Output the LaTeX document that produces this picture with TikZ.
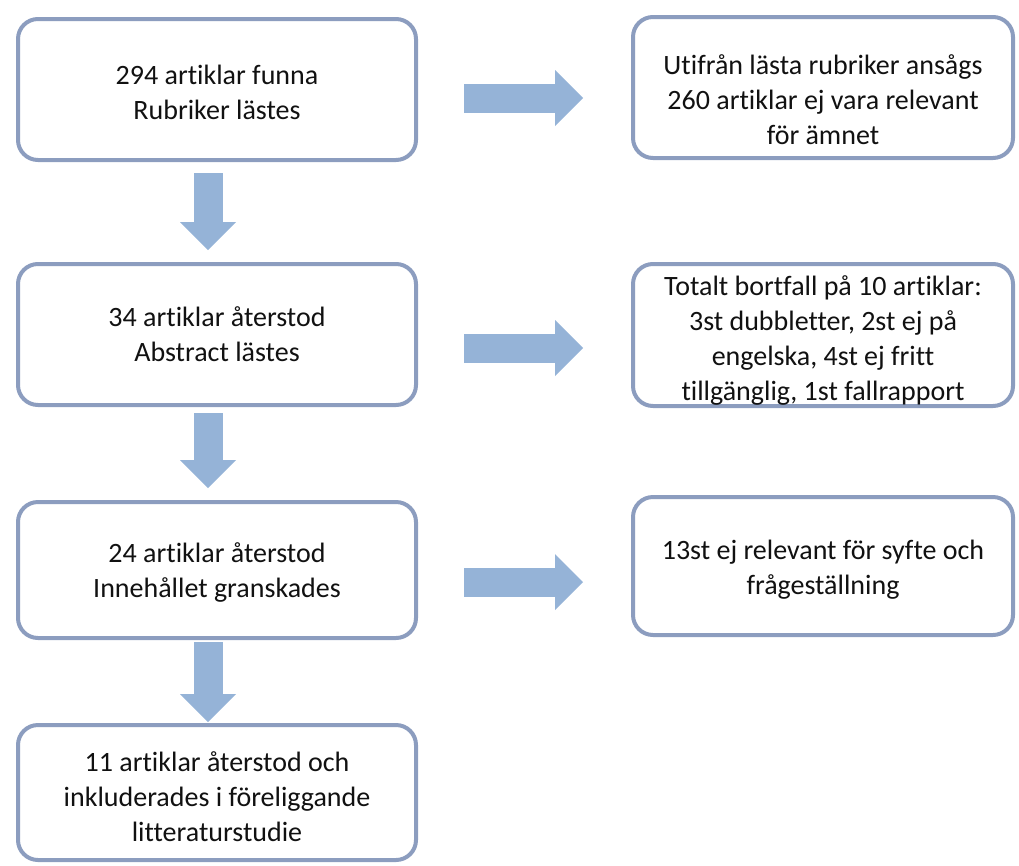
\documentclass[tikz,border=0pt]{standalone}
\usepackage{fontspec}
\setmainfont{Carlito}[Ligatures=NoCommon]
\usetikzlibrary{arrows.meta,calc}
\definecolor{boxline}{HTML}{8C9DBF}
\definecolor{arrowfill}{HTML}{95B3D7}
\definecolor{txt}{HTML}{111111}
\newcommand{\topgap}[1]{\rule{0pt}{#1}}
\begin{document}
\begin{tikzpicture}[x=1pt,y=-1pt,
  box/.style={draw=boxline, line width=4pt, rounded corners=20pt, fill=white,
    align=center, inner sep=0pt, text=txt,
    font=\fontsize{28}{35}\selectfont},
  flow/.style={draw=arrowfill, line width=29pt,
    -{Triangle[width=56pt,length=28pt,line width=0pt]}}]
\useasboundingbox (0,0) rectangle (1019,865);
% left column
\node[box, minimum width=398pt, minimum height=141pt] (L1) at (217,89.5)
  {\topgap{25pt}294 artiklar funna\\Rubriker lästes};
\node[box, minimum width=398pt, minimum height=141pt] (L2) at (217,334.5)
  {34 artiklar återstod\\Abstract lästes};
\node[box, minimum width=398pt, minimum height=136pt] (L3) at (217,570)
  {\topgap{25pt}24 artiklar återstod\\Innehållet granskades};
\node[box, minimum width=398pt, minimum height=135pt] (L4) at (217,792.5)
  {\topgap{29pt}11 artiklar återstod och\\inkluderades i föreliggande\\litteraturstudie};
% right column
\node[box, minimum width=380pt, minimum height=141pt] (R1) at (823,87.5)
  {\topgap{45pt}Utifrån lästa rubriker ansågs\\260 artiklar ej vara relevant\\för ämnet};
\node[box, minimum width=380pt, minimum height=142pt] (R2) at (823,335)
  {\topgap{30pt}Totalt bortfall på 10 artiklar:\\3st dubbletter, 2st ej på\\engelska, 4st ej fritt\\tillgänglig, 1st fallrapport};
\node[box, minimum width=380pt, minimum height=138pt] (R3) at (823,566)
  {\topgap{27pt}13st ej relevant för syfte och\\frågeställning};
% vertical block arrows
\draw[flow, shorten <=11pt, shorten >=12pt] ([xshift=-9pt]L1.south) -- ([xshift=-9pt]L2.north);
\draw[flow, shorten <=6pt, shorten >=12pt] ([xshift=-9pt]L2.south) -- ([xshift=-9pt]L3.north);
\draw[flow, shorten <=2pt, shorten >=1pt] ([xshift=-9pt]L3.south) -- ([xshift=-9pt]L4.north);
% horizontal block arrows
\draw[flow, shorten <=46pt, shorten >=48pt] ([yshift=-8.5pt]L1.east) coordinate (h1) -- (h1 -| R1.west);
\draw[flow, shorten <=46pt, shorten >=48pt] ([yshift=-13.5pt]L2.east) coordinate (h2) -- (h2 -| R2.west);
\draw[flow, shorten <=46pt, shorten >=48pt] ([yshift=-12pt]L3.east) coordinate (h3) -- (h3 -| R3.west);
\end{tikzpicture}
\end{document}
